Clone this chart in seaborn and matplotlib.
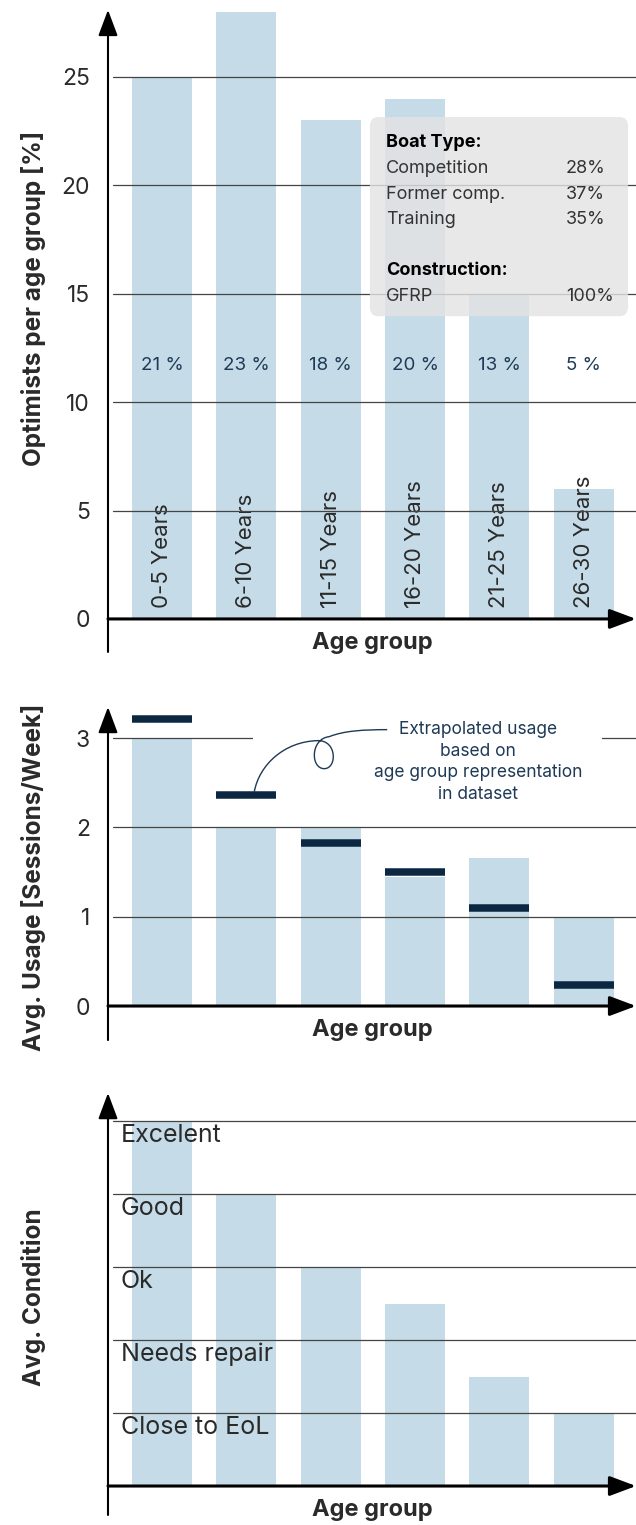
import numpy as np
import seaborn as sns
import matplotlib.pyplot as plt
from matplotlib.patches import FancyBboxPatch, Rectangle, PathPatch
from matplotlib.path import Path

# Daten
age_groups = ['0-5 Years', '6-10 Years', '11-15 Years', '16-20 Years', '21-25 Years', '26-30 Years']
share_pct = [25, 28, 23, 24, 15, 6]
share_labels = ['21 %', '23 %', '18 %', '20 %', '13 %', '5 %']
usage = [3.0, 2.0, 2.0, 1.45, 1.66, 1.0]
usage_extrapolated = [3.21, 2.36, 1.82, 1.50, 1.10, 0.24]
condition = [5.0, 4.0, 3.0, 2.5, 1.5, 1.0]
condition_levels = ['Close to EoL', 'Needs repair', 'Ok', 'Good', 'Excelent']
boat_types = ['Competition', 'Former comp.', 'Training']
boat_type_pct = ['28%', '37%', '35%']
construction = ['GFRP']
construction_pct = ['100%']

sns.set_style('white')
plt.rcParams['font.family'] = ['Inter', 'DejaVu Sans']

BAR = '#c5dbe7'
NAVY = '#0b2741'
TXT_NAVY = '#1e3a56'
DARK = '#2a2a2a'
W = 'normal'

fig = plt.figure(figsize=(6.36, 15.25), dpi=100)
ax1 = fig.add_axes([0.1698, 0.5725, 0.8302, 0.4210])
ax2 = fig.add_axes([0.1698, 0.3180, 0.8302, 0.2184])
ax3 = fig.add_axes([0.1698, 0.00656, 0.8302, 0.2767])

arrow_y = dict(arrowstyle='-|>,head_length=0.8,head_width=0.3', color='black',
               lw=1.5, mutation_scale=20, shrinkA=0, shrinkB=0)
arrow_x = dict(arrowstyle='-|>,head_length=0.8,head_width=0.3', color='black',
               lw=2.2, mutation_scale=20, shrinkA=0, shrinkB=0)


def style_axis(ax, ylim, grid, ticks):
    ax.set_xlim(-0.64, 5.62)
    ax.set_ylim(*ylim)
    sns.despine(ax=ax, left=True, bottom=True, top=True, right=True)
    ax.set_xticks([])
    ax.set_xlabel('')
    ax.set_ylabel('')
    ax.set_yticks(ticks)
    ax.tick_params(axis='y', length=0, pad=13, labelsize=16.5, labelcolor=DARK)
    for g in grid:
        ax.axhline(g, xmin=0.0095, xmax=1, color='#444444', lw=0.9, zorder=2)
    ax.annotate('', xy=(0, 1), xytext=(0, 0), xycoords='axes fraction',
                arrowprops=arrow_y, annotation_clip=False)
    ax.annotate('', xy=(1, 0), xytext=(0, 0), xycoords=ax.get_yaxis_transform(),
                arrowprops=arrow_x, annotation_clip=False)
    ax.annotate('Age group', xy=(0.5, 0), xycoords=ax.get_yaxis_transform(),
                xytext=(0, -17), textcoords='offset points', ha='center', va='center',
                fontsize=17, fontweight='bold', color=DARK)


# Chart 1 - Anteil pro Altersgruppe
sns.barplot(x=age_groups, y=share_pct, color=BAR, saturation=1, width=0.71,
            linewidth=0, ax=ax1, zorder=1)
style_axis(ax1, (-1.522, 28.09), [5, 10, 15, 20, 25], [0, 5, 10, 15, 20, 25])
for i, (grp, lab) in enumerate(zip(age_groups, share_labels)):
    ax1.text(i, 0.5, grp, rotation=90, ha='center', va='bottom', fontsize=16,
             fontweight=W, color=DARK, zorder=1.5)
    ax1.text(i, 11.7, lab, ha='center', va='center', fontsize=13.5,
             color=TXT_NAVY, zorder=3)

box = FancyBboxPatch((0.496, 0.523), 0.489, 0.310, transform=ax1.transAxes,
                     boxstyle='round,pad=0,rounding_size=0.015',
                     facecolor='#e3e3e3', edgecolor='none', alpha=0.82, zorder=4)
ax1.add_patch(box)
rows = [('Boat Type:', None, True)]
rows += [(b, p, False) for b, p in zip(boat_types, boat_type_pct)]
rows += [('', None, False), ('Construction:', None, True)]
rows += [(c, p, False) for c, p in zip(construction, construction_pct)]
for k, (name, val, bold) in enumerate(rows):
    yk = 0.793 - k * 0.0399
    ax1.text(0.5265, yk, name, transform=ax1.transAxes, ha='left', va='center',
             fontsize=13, fontweight='bold' if bold else W,
             color='black' if bold else '#333333', zorder=5)
    if val:
        ax1.text(0.867, yk, val, transform=ax1.transAxes, ha='left', va='center',
                 fontsize=13, fontweight=W, color='#333333', zorder=5)

# Chart 2 - Nutzung
sns.barplot(x=age_groups, y=usage, color=BAR, saturation=1, width=0.71,
            linewidth=0, ax=ax2, zorder=1)
style_axis(ax2, (-0.381, 3.348), [1, 2, 3], [0, 1, 2, 3])
xpos = np.arange(len(age_groups))
ax2.hlines(usage_extrapolated, xpos - 0.355, xpos + 0.355, color=NAVY, lw=5.4, zorder=6)

ax2.add_patch(Rectangle((1.08, 2.75), 4.14, 0.6, facecolor='white',
                        edgecolor='none', zorder=3))
ax2.text(3.744, 3.19, 'Extrapolated usage\nbased on\nage group representation\nin dataset',
         ha='center', va='top', fontsize=12.5, color=TXT_NAVY, linespacing=1.36, zorder=4)

# Verbindungslinie mit Schlaufe (Pixel-Offsets ab Marker)
sx, sy = 1 + (255 - 247) / 84.4, usage_extrapolated[1] + 0.04
offs = [(0, 0),
        (5, -27), (30, -50), (63, -51),
        (83, -52), (83, -23), (70, -23),
        (56, -23), (56, -53), (75, -55),
        (90, -61), (110, -62), (133, -62)]
verts = [(sx + dx / 84.4, sy - dy / 89.3) for dx, dy in offs]
codes = [Path.MOVETO] + [Path.CURVE4] * 12
ax2.add_patch(PathPatch(Path(verts, codes), facecolor='none', edgecolor=TXT_NAVY,
                        lw=1.0, zorder=4))

# Chart 3 - Zustand
sns.barplot(x=age_groups, y=condition, color=BAR, saturation=1, width=0.71,
            linewidth=0, ax=ax3, zorder=1)
style_axis(ax3, (-0.397, 5.384), [1, 2, 3, 4, 5], [])
for lvl, name in enumerate(condition_levels, start=1):
    ax3.text(-0.49, lvl - 0.04, name, ha='left', va='top', fontsize=18,
             fontweight=W, color=DARK, zorder=4)

fig.text(0.0519, 0.804, 'Optimists per age group [%]', rotation=90, ha='center',
         va='center', fontsize=17.5, fontweight='bold', color=DARK)
fig.text(0.0519, 0.4249, 'Avg. Usage [Sessions/Week]', rotation=90, ha='center',
         va='center', fontsize=17.5, fontweight='bold', color=DARK)
fig.text(0.0519, 0.1495, 'Avg. Condition', rotation=90, ha='center',
         va='center', fontsize=17.5, fontweight='bold', color=DARK)

plt.savefig('out.png', dpi=100)
plt.close()
